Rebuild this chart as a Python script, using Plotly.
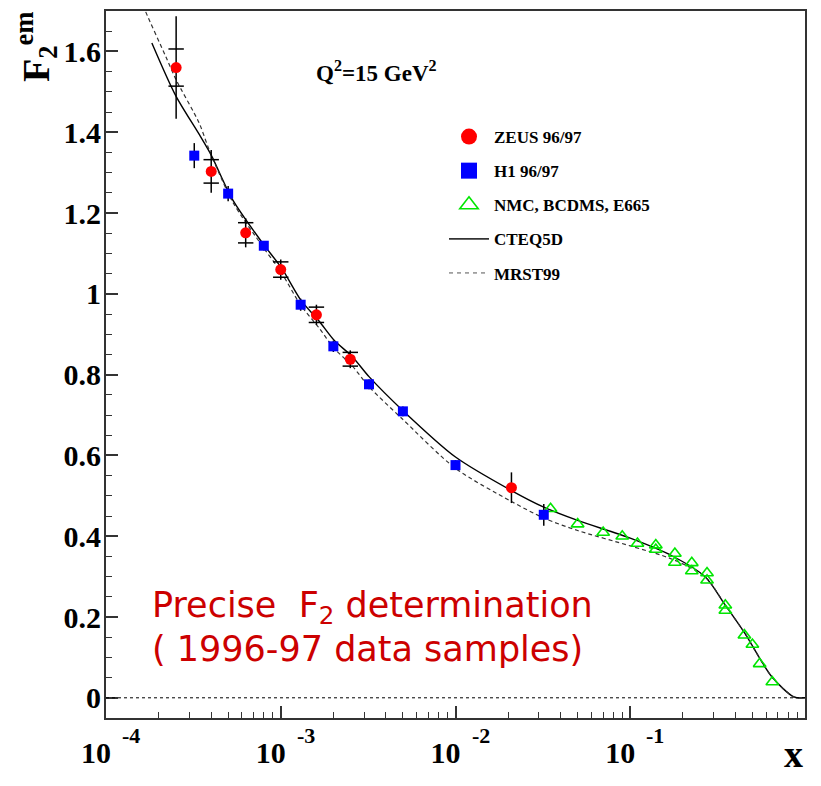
import math
import plotly.graph_objects as go

# ---------------- data ----------------
zeus_x = [2.52e-4, 4.0e-4, 6.3e-4, 1.0e-3, 1.6e-3, 2.5e-3, 2.09e-2]
zeus_y = [1.560, 1.303, 1.151, 1.060, 0.948, 0.838, 0.520]
zeus_tot = [0.127, 0.053, 0.036, 0.025, 0.025, 0.022, 0.038]
zeus_stat = [0.046, 0.029, 0.025, 0.019, 0.019, 0.017, None]

h1_x = [3.2e-4, 5.0e-4, 8.0e-4, 1.3e-3, 2.0e-3, 3.2e-3, 5.0e-3, 1.0e-2, 3.2e-2]
h1_y = [1.342, 1.248, 1.119, 0.973, 0.870, 0.776, 0.709, 0.576, 0.453]
h1_err = [0.031, 0.019, 0.012, 0.015, 0.014, 0.012, 0.012, 0.012, 0.027]

nmc_x = [0.035, 0.05, 0.07, 0.09, 0.11, 0.14, 0.14, 0.18, 0.18, 0.225, 0.225,
         0.275, 0.275, 0.35, 0.35, 0.45, 0.50, 0.55, 0.65]
nmc_y = [0.468, 0.430, 0.409, 0.400, 0.382, 0.378, 0.367, 0.357, 0.335, 0.334, 0.314,
         0.309, 0.291, 0.229, 0.216, 0.155, 0.132, 0.084, 0.039]

cteq_x = [1.83e-4, 2.51e-4, 3.41e-4, 3.98e-4, 5.30e-4, 7.85e-4, 1.01e-3, 1.30e-3,
          1.66e-3, 2.02e-3, 2.56e-3, 3.20e-3, 4.97e-3, 1.0e-2, 2.09e-2, 3.2e-2,
          5.0e-2, 0.1, 0.174, 0.269, 0.349, 0.452, 0.646, 0.865, 1.0]
cteq_y = [1.621, 1.490, 1.395, 1.345, 1.233, 1.126, 1.064, 0.985,
          0.932, 0.885, 0.845, 0.795, 0.712, 0.596, 0.513, 0.472,
          0.439, 0.395, 0.351, 0.299, 0.230, 0.160, 0.052, 0.002, 0.0]

mrst_x = [1.585e-4, 1.68e-4, 2.20e-4, 2.51e-4, 3.41e-4, 3.89e-4, 5.30e-4, 7.85e-4,
          1.01e-3, 1.30e-3, 1.66e-3, 2.02e-3, 2.56e-3, 3.20e-3, 4.97e-3, 1.0e-2,
          2.09e-2, 3.2e-2, 5.0e-2, 0.1, 0.174, 0.269, 0.349, 0.452, 0.646, 0.865, 1.0]
mrst_y = [1.73, 1.70, 1.587, 1.531, 1.423, 1.357, 1.228, 1.118,
          1.052, 0.972, 0.915, 0.865, 0.822, 0.770, 0.690, 0.568,
          0.486, 0.445, 0.414, 0.376, 0.343, 0.299, 0.230, 0.160, 0.052, 0.002, 0.0]

x_tickvals = [1e-4, 1e-3, 1e-2, 1e-1]
x_ticktext = ["10", "10", "10", "10"]
x_exponents = ["-4", "-3", "-2", "-1"]
y_tickvals = [0, 0.2, 0.4, 0.6, 0.8, 1.0, 1.2, 1.4, 1.6]
y_ticktext = ["0", "0.2", "0.4", "0.6", "0.8", "1", "1.2", "1.4", "1.6"]

SERIF = "Liberation Serif"
RED_TXT = "#cc0000"

# page has an 8px body margin: figure is drawn 8px in from the window corner
OFF = 8
FW, FH = 821 - 2 * OFF, 786 - 2 * OFF
# plot area in window pixels
L, T, W, H = 106, 11, 699, 707


def px(xp):
    return (xp - L) / W


def py(yp):
    return (T + H - yp) / H


fig = go.Figure()

# theory curves
fig.add_trace(go.Scatter(x=cteq_x, y=cteq_y, mode="lines", name="CTEQ5D",
                         line=dict(color="black", width=1.4, shape="spline", smoothing=0.8),
                         showlegend=False, cliponaxis=True))
fig.add_trace(go.Scatter(x=mrst_x, y=mrst_y, mode="lines", name="MRST99",
                         line=dict(color="#333333", width=1.2, dash="4px,3px",
                                   shape="spline", smoothing=0.8),
                         showlegend=False, cliponaxis=True))

# data
fig.add_trace(go.Scatter(x=nmc_x, y=nmc_y, mode="markers", showlegend=False,
                         marker=dict(symbol="triangle-up-open", size=11, color="#00e600",
                                     line=dict(width=1.6, color="#00e600"))))
fig.add_trace(go.Scatter(x=h1_x, y=h1_y, mode="markers", showlegend=False,
                         error_y=dict(type="data", array=h1_err, color="black",
                                      thickness=1.5, width=0),
                         marker=dict(symbol="square", size=10, color="#0000ff")))
fig.add_trace(go.Scatter(x=zeus_x, y=zeus_y, mode="markers", showlegend=False,
                         error_y=dict(type="data", array=zeus_tot, color="black",
                                      thickness=1.5, width=0),
                         marker=dict(symbol="circle", size=11, color="#ff0000")))
stat_x = zeus_x + zeus_x
stat_y = [(y + s) if s is not None else None for y, s in zip(zeus_y, zeus_stat)] + \
         [(y - s) if s is not None else None for y, s in zip(zeus_y, zeus_stat)]
fig.add_trace(go.Scatter(x=stat_x, y=stat_y, mode="markers", showlegend=False,
                         hoverinfo="skip",
                         marker=dict(symbol="line-ew", size=11,
                                     line=dict(width=1.5, color="black"))))

# legend entries
leg = [
    ("ZEUS 96/97", dict(mode="markers", marker=dict(symbol="circle", size=16, color="#ff0000"))),
    ("H1 96/97", dict(mode="markers", marker=dict(symbol="square", size=16, color="#0000ff"))),
    ("NMC, BCDMS, E665", dict(mode="markers", marker=dict(symbol="triangle-up-open", size=16,
                                                             color="#00e600",
                                                             line=dict(width=1.6, color="#00e600")))),
    ("CTEQ5D", dict(mode="lines", line=dict(color="#333333", width=1.6))),
    ("MRST99", dict(mode="lines", line=dict(color="#555555", width=1, dash="4px,4px"))),
]
for i, (nm, kw) in enumerate(leg):
    fig.add_trace(go.Scatter(x=[None], y=[None], name=nm, legendgroup=f"g{i}", **kw))

fig.update_layout(
    width=FW, height=FH,
    margin=dict(l=L - OFF, r=FW - (L - OFF) - W, t=T - OFF, b=FH - (T - OFF) - H,
                autoexpand=False),
    paper_bgcolor="white", plot_bgcolor="white",
    font=dict(family=SERIF, color="black"),
    showlegend=True,
    legend=dict(x=px(444), y=py(119), xanchor="left", yanchor="top",
                bgcolor="rgba(0,0,0,0)", traceorder="grouped", tracegroupgap=9,
                font=dict(family=SERIF, size=17, weight="bold"), itemwidth=40),
    xaxis=dict(type="log", range=[-4, 0], showgrid=False, zeroline=False, automargin=False,
               showline=True, linecolor="#333333", linewidth=2, mirror=True,
               ticks="inside", ticklen=12, tickwidth=1.5, tickcolor="#333333",
               tickvals=x_tickvals, ticktext=x_ticktext, ticklabelstandoff=7,
               ticklabelshift=-10,
               tickfont=dict(family=SERIF, size=30, weight="bold"),
               minor=dict(ticks="inside", ticklen=6, tickwidth=1.2, tickcolor="#333333",
                          dtick="D1", showgrid=False)),
    yaxis=dict(range=[-0.05, 1.7], showgrid=False, zeroline=False, automargin=False,
               showline=True, linecolor="#333333", linewidth=2, mirror=True,
               ticks="inside", ticklen=12, tickwidth=1.5, tickcolor="#333333",
               tickvals=y_tickvals, ticktext=y_ticktext, ticklabelstandoff=-3,
               tickfont=dict(family=SERIF, size=30, weight="bold"),
               minor=dict(ticks="inside", ticklen=6, tickwidth=1.2, tickcolor="#333333",
                          dtick=0.05, showgrid=False)),
)

# dotted zero line
fig.add_shape(type="line", xref="paper", yref="y", x0=0, x1=1, y0=0, y1=0,
              line=dict(color="black", width=1, dash="dot"))

# x-axis decade exponents
for tv, ex in zip(x_tickvals, x_exponents):
    fig.add_annotation(text=ex, xref="x", yref="paper", x=math.log10(tv), y=py(735),
                       xanchor="center", yanchor="middle", xshift=25, showarrow=False,
                       font=dict(family=SERIF, size=22, weight="bold"))

# annotations
fig.add_annotation(text="Q<sup>2</sup>=15 GeV<sup>2</sup>", xref="paper", yref="paper",
                   x=px(376), y=py(71), xanchor="center", yanchor="middle", showarrow=False,
                   font=dict(family=SERIF, size=23, weight="bold"))
fig.add_annotation(text="F<sub>2</sub><sup>em</sup>", xref="paper", yref="paper",
                   x=px(36), y=py(47), xanchor="center", yanchor="middle",
                   showarrow=False, textangle=-90,
                   font=dict(family=SERIF, size=38, weight="bold"))
fig.add_annotation(text="x", xref="paper", yref="paper",
                   x=1.0, xanchor="right", y=py(777), yanchor="bottom", showarrow=False,
                   font=dict(family=SERIF, size=38, weight="bold"))
fig.add_annotation(text="Precise  F<sub>2</sub> determination",
                   xref="paper", yref="paper", align="left",
                   x=px(150), xanchor="left", y=py(607), yanchor="middle",
                   showarrow=False,
                   font=dict(family="DejaVu Sans", size=35, color=RED_TXT))
fig.add_annotation(text="( 1996-97 data samples)",
                   xref="paper", yref="paper", align="left",
                   x=px(150), xanchor="left", y=py(649), yanchor="middle",
                   showarrow=False,
                   font=dict(family="DejaVu Sans", size=35, color=RED_TXT))

fig.write_html("out.html")
